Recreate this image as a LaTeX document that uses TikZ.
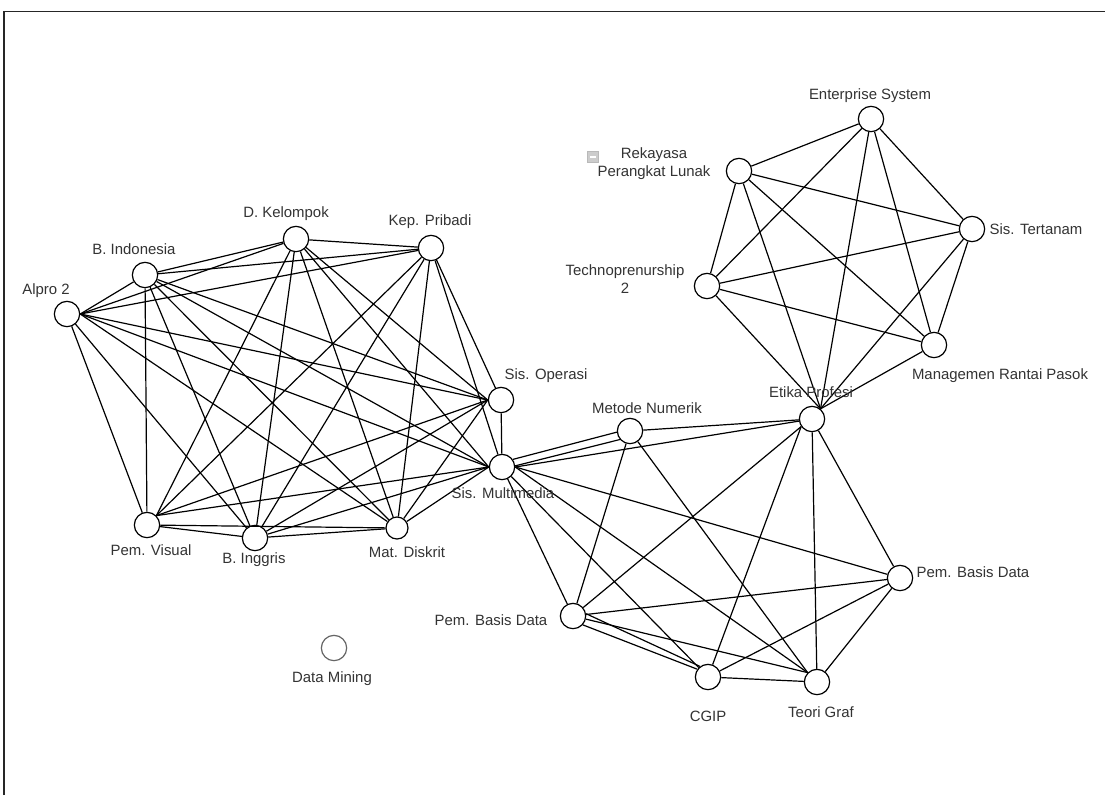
\documentclass[tikz,border=0pt]{standalone}
\usepackage{fontspec}
\setmainfont{Liberation Sans}
\definecolor{labelgray}{HTML}{333333}
\begin{document}
\begin{tikzpicture}[x=0.75pt,y=-0.75pt,
  vtx/.style={circle,draw,line width=0.9pt,fill=white,minimum size=19pt,inner sep=0pt},
  lbl/.style={text=labelgray,font=\fontsize{11.2}{13.5}\selectfont,inner sep=0pt,align=center},
  edge/.style={line width=0.9pt}]
\useasboundingbox (0,0) rectangle (1105,795);
\fill[white] (0,0) rectangle (1105,795);
\draw[line width=1.4pt,black!85] (4,795) -- (4,11.5) -- (1105,11.5);

% nodes
\node[vtx] (A) at (67,314) {};
\node[vtx] (BI) at (145,275) {};
\node[vtx] (DK) at (296,239) {};
\node[vtx] (KP) at (431,248) {};
\node[vtx] (SO) at (501,400) {};
\node[vtx] (SM) at (502,467) {};
\node[vtx] (PV) at (147,525) {};
\node[vtx] (BG) at (255,538) {};
\node[vtx,minimum size=16.5pt] (MD) at (397,528) {};
\node[vtx,draw=black!60] (DM) at (334,648) {};
\node[vtx] (MN) at (630,431) {};
\node[vtx] (EP) at (812,419) {};
\node[vtx] (PL) at (573,616) {};
\node[vtx] (PR) at (900,578) {};
\node[vtx] (CG) at (708,677) {};
\node[vtx] (TG) at (817,682) {};
\node[vtx] (ES) at (871,119) {};
\node[vtx] (RP) at (739,171) {};
\node[vtx] (ST) at (972,229) {};
\node[vtx] (T2) at (707,286) {};
\node[vtx] (MR) at (934,345) {};

% edges: left cluster
\foreach \a/\b in {A.east/BI,A.east/DK,A.east/KP,A.east/SO.west,A.east/SM.west,A.east/MD,A/PV,A/BG,
  BI/DK,BI/KP,BI/SO.west,BI/SM.west,BI/PV,BI/BG,BI/MD,
  DK/KP,DK/SO.west,DK/SM.west,DK/PV.45,DK/BG,DK/MD,
  KP/SO,KP/SM,KP/PV.45,KP/BG,KP/MD,
  SO/SM,SO.west/PV.45,SO.west/BG,SO.west/MD,
  SM.west/PV.45,SM.west/BG,SM.west/MD,
  PV/BG,PV/MD,BG/MD}
  \draw[edge] (\a) -- (\b);
% edges: lower cluster
\foreach \a/\b in {SM.east/EP,SM.east/PR,SM.east/TG.135,SM/CG,SM/PL,
  MN/EP,MN/PL,MN/TG.135,
  EP.215/PL,EP.215/CG,EP/TG,EP/PR,
  PL/PR,PL/TG.135,PR/CG,PR/TG,CG/TG}
  \draw[edge] (\a) -- (\b);
\draw[edge] (SM.35) -- (MN.185);
\draw[edge] (SM.5) -- (MN.220);
\draw[edge] (PL.10) -- (CG.127);
\draw[edge] (PL.-42) -- (CG.144);
% edges: upper right cluster
\foreach \a/\b in {ES/RP,ES/ST,ES/T2,ES/MR,ES/EP.50,
  RP/ST,RP/T2,RP/MR,RP/EP.50,
  ST/T2,ST/MR,ST/EP.50,
  T2/MR,T2/EP.50,MR/EP.50}
  \draw[edge] (\a) -- (\b);

% labels
\node[lbl] (lA) at (46,291) {Alpro 2};
\node[lbl] (lBI) at (134,249) {B. Indonesia};
\node[lbl] (lDK) at (286,214) {D. Kelompok};
\node[lbl] (lKP) at (430,222) {Kep. Pribadi};
\node[lbl] (lSO) at (546,376) {Sis. Operasi};
\node[lbl] (lSM) at (503,493) {Sis. Multimedia};
\node[lbl] (lPV) at (151,550) {Pem. Visual};
\node[lbl] (lBG) at (254,560) {B. Inggris};
\node[lbl] (lMD) at (407,552) {Mat. Diskrit};
\node[lbl] (lDM) at (332,679) {Data Mining};
\node[lbl] (lMN) at (647,408) {Metode Numerik};
\node[lbl] (lEP) at (811,392) {Etika Profesi};
\node[lbl] (lPL) at (491,620) {Pem. Basis Data};
\node[lbl] (lPR) at (973,572) {Pem. Basis Data};
\node[lbl] (lCG) at (708,716) {CGIP};
\node[lbl] (lTG) at (821,712) {Teori Graf};
\node[lbl] (lES) at (870,96) {Enterprise System};
\node[lbl] (lRP) at (654,164) {Rekayasa\\Perangkat Lunak};
\node[lbl] (lST) at (1036,229) {Sis. Tertanam};
\node[lbl] (lT2) at (625,279) {Technoprenurship\\2};
\node[lbl] (lMR) at (1000,376) {Managemen Rantai Pasok};

% collapse icon
\node[draw=gray!55,fill=gray!40,minimum size=8.5pt,inner sep=0pt] (ic) at (593,157) {};
\draw[white,line width=1pt] ([xshift=-2.2pt]ic.center) -- ([xshift=2.2pt]ic.center);
\end{tikzpicture}
\end{document}
